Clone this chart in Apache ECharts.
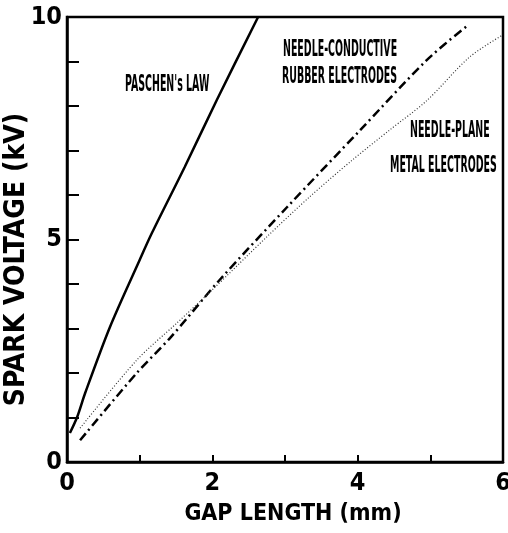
<!DOCTYPE html>
<html>
<head>
<meta charset="utf-8">
<script src="https://cdn.jsdelivr.net/npm/echarts@6/dist/echarts.min.js"></script>
<style>html,body{margin:0;padding:0;background:#fff;}#c{width:508px;height:533px;}</style>
</head>
<body>
<div id="c"></div>
<script>
var xTicks = [0, 2, 4, 6];
var yTicks = [0, 5, 10];
var paschen = [[0.04,0.65],[0.14,1.01],[0.25,1.55],[0.59,3.03],[1.0,4.54],[1.17,5.15],[1.62,6.63],[2.06,8.13],[2.63,10]];
var rubber = [[0.18,0.49],[0.96,2.0],[1.42,2.79],[2.1,4.09],[3.03,5.73],[4.03,7.45],[4.95,9.03],[5.52,9.82]];
var metal = [[0.18,0.76],[0.96,2.29],[1.51,3.12],[2.0,3.87],[2.75,5.06],[3.34,5.96],[3.93,6.79],[4.44,7.46],[4.95,8.12],[5.54,9.1],[6.0,9.6]];
var seriesNames = ["PASCHEN's LAW", "NEEDLE-CONDUCTIVE RUBBER ELECTRODES", "NEEDLE-PLANE METAL ELECTRODES"];

var FONT = '"DejaVu Sans Condensed","Liberation Sans Narrow",sans-serif';
var chart = echarts.init(document.getElementById('c'), null, {renderer: 'canvas'});
function note(text, x, y) {
  return {type: 'text', x: x, y: y, scaleX: 0.75, scaleY: 1.7,
    style: {text: text, font: 'bold 14px ' + FONT, fill: '#000', textVerticalAlign: 'middle'}};
}
chart.setOption({
  animation: false,
  backgroundColor: '#fff',
  grid: {left: 67, right: 5, top: 17, bottom: 71, show: true, borderColor: '#000', borderWidth: 2.5,
    containLabel: false, outerBoundsMode: 'none'},
  xAxis: {
    type: 'value', min: 0, max: 6, interval: 1,
    name: 'GAP LENGTH (mm)', nameLocation: 'middle', nameGap: 41, nameMoveOverlap: false,
    nameTextStyle: {fontFamily: FONT, fontWeight: 'bold', fontSize: 23, color: '#000', padding: [0, 0, 0, 16]},
    axisLine: {lineStyle: {color: '#000', width: 2.5}},
    axisTick: {inside: true, length: 7, lineStyle: {color: '#000', width: 2}},
    axisLabel: {margin: 9, fontFamily: FONT, fontWeight: 'bold', fontSize: 25, color: '#000',
      formatter: function (v) { return xTicks.indexOf(v) >= 0 ? String(v) : ''; }},
    splitLine: {show: false}
  },
  yAxis: {
    type: 'value', min: 0, max: 10, interval: 1,
    name: 'SPARK VOLTAGE (kV)', nameLocation: 'middle', nameGap: 36, nameRotate: 90, nameMoveOverlap: false,
    nameTextStyle: {fontFamily: FONT, fontWeight: 'bold', fontSize: 28, color: '#000', padding: [0, 0, 0, -40]},
    axisLine: {lineStyle: {color: '#000', width: 2.5}},
    axisTick: {inside: true, length: 12, lineStyle: {color: '#000', width: 2}},
    axisLabel: {margin: 5, fontFamily: FONT, fontWeight: 'bold', fontSize: 25, color: '#000',
      formatter: function (v) { return yTicks.indexOf(v) >= 0 ? String(v) : ''; }},
    splitLine: {show: false}
  },
  series: [
    {name: seriesNames[0], type: 'line', data: paschen, symbol: 'none', smooth: 0.3,
      lineStyle: {color: '#000', width: 2.5, type: 'solid'}},
    {name: seriesNames[1], type: 'line', data: rubber, symbol: 'none', smooth: 0.3,
      lineStyle: {color: '#000', width: 2.5, type: [9, 4, 2, 4]}},
    {name: seriesNames[2], type: 'line', data: metal, symbol: 'none', smooth: 0.3,
      lineStyle: {color: '#333', width: 1.2, type: [1, 2]}}
  ],
  graphic: [
    note("PASCHEN's LAW", 125, 85),
    note('NEEDLE-CONDUCTIVE', 283, 50),
    note('RUBBER ELECTRODES', 282, 77),
    note('NEEDLE-PLANE', 410, 131),
    note('METAL ELECTRODES', 390, 166)
  ]
});
</script>
</body>
</html>
